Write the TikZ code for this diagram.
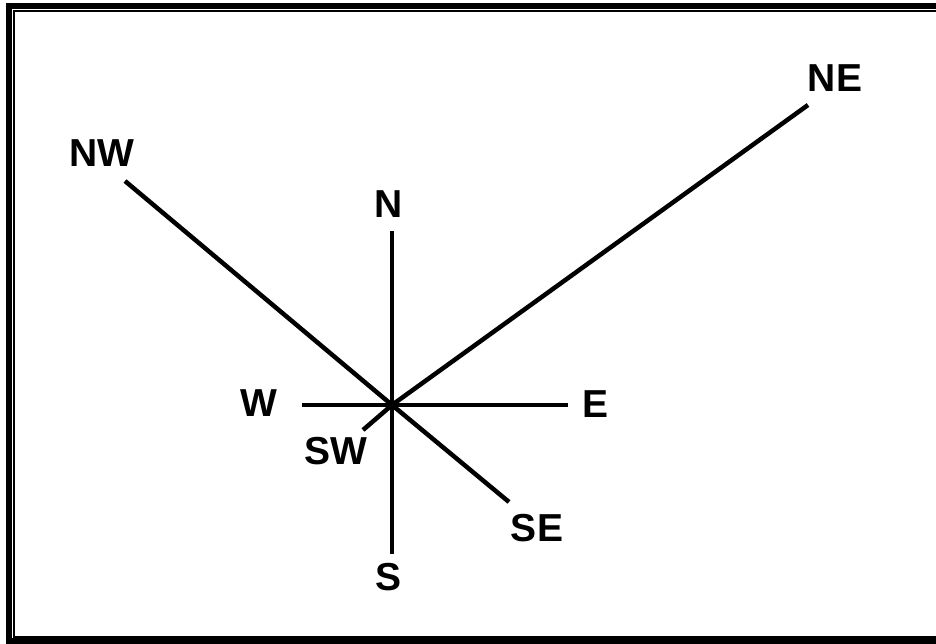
\documentclass[tikz,border=0pt]{standalone}
\usepackage{fontspec}
\setmainfont{Liberation Sans}
\usetikzlibrary{positioning}

\begin{document}
\begin{tikzpicture}[x=1pt, y=-1pt,
  font=\fontsize{39}{41}\selectfont\bfseries,
  frameouter/.style={draw, line width=6pt},
  frameinner/.style={draw, line width=2pt},
  ray/.style={draw, line width=4.5pt},
  dirlabel/.style={inner sep=0pt, anchor=center}]
\useasboundingbox (0,0) rectangle (936,644);
\clip (0,0) rectangle (936,644);
% frame (runs off the right edge)
\draw[frameouter] (950,6) -- (9,6) -- (9,641) -- (950,641);
\draw[frameinner] (950,11) -- (14,11) -- (14,637) -- (950,637);
% centre and ray ends
\coordinate (c) at (392,405);
\coordinate (nend) at (392,231);
\coordinate (send) at (392,554);
\coordinate (wend) at (302,405);
\coordinate (eend) at (568,405);
\coordinate (nwend) at (125,181);
\coordinate (neend) at (808,105);
\coordinate (seend) at (509,502);
\coordinate (swend) at (363,430);
\draw[ray] (c) -- (nend);
\draw[ray] (c) -- (send);
\draw[ray] (c) -- (wend);
\draw[ray] (c) -- (eend);
\draw[ray] (c) -- (nwend);
\draw[ray] (c) -- (neend);
\draw[ray] (c) -- (seend);
\draw[ray] (c) -- (swend);
% labels
\node[dirlabel] (n) at (389,204) {N};
\node[dirlabel] (s) at (389,577) {S};
\node[dirlabel] (w) at (259,403) {W};
\node[dirlabel] (e) at (595,404) {E};
\node[dirlabel] (nw) at (102,153) {NW};
\node[dirlabel] (ne) at (835,78) {NE};
\node[dirlabel] (se) at (537,528) {SE};
\node[dirlabel] (sw) at (336,451) {SW};
\end{tikzpicture}
\end{document}
